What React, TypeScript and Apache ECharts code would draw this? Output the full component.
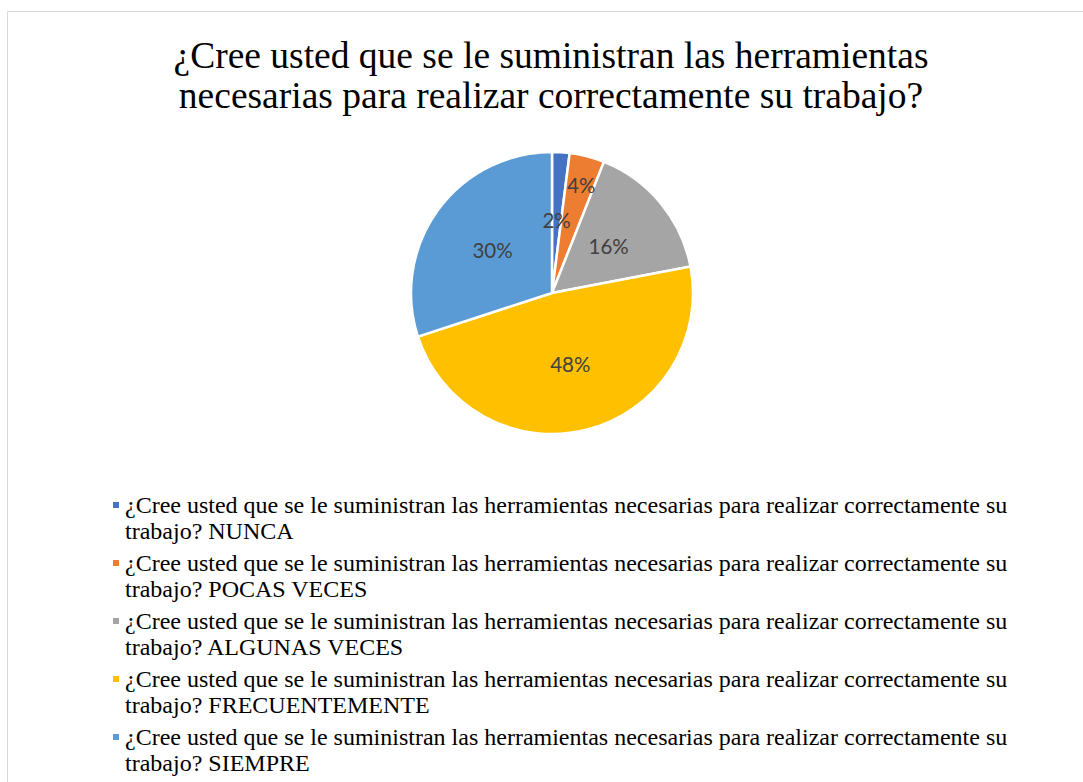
import React, { useEffect, useRef } from "react";
import * as echarts from "echarts";

const TITLE = "¿Cree usted que se le suministran las herramientas\nnecesarias para realizar correctamente su trabajo?";
const QUESTION = "¿Cree usted que se le suministran las herramientas necesarias para realizar correctamente su trabajo?";
const CATEGORIES = ["NUNCA", "POCAS VECES", "ALGUNAS VECES", "FRECUENTEMENTE", "SIEMPRE"];
const VALUES = [2, 4, 16, 48, 30];
const COLORS = ["#4472C4", "#ED7D31", "#A5A5A5", "#FFC000", "#5B9BD5"];

export default function App() {
  const ref = useRef<HTMLDivElement>(null);
  useEffect(() => {
    if (!ref.current) return;
    const chart = echarts.init(ref.current, undefined, { renderer: "svg" });
    const data = CATEGORIES.map((c, i) => ({
      name: QUESTION + " " + c,
      value: VALUES[i],
      itemStyle: { color: COLORS[i] },
    }));
    chart.setOption({
      animation: false,
      backgroundColor: "#ffffff",
      title: {
        text: TITLE,
        left: 551,
        top: 35,
        textAlign: "center",
        padding: 0,
        textStyle: {
          fontFamily: "'Liberation Serif', 'Times New Roman', serif",
          fontSize: 37.5,
          fontWeight: "normal",
          color: "#000000",
          lineHeight: 40,
        },
      },
      graphic: [
        {
          type: "rect",
          shape: { x: 7.5, y: 11.5, width: 1200, height: 900 },
          style: { fill: "none", stroke: "#d9d9d9", lineWidth: 1 },
          silent: true,
        },
      ],
      legend: {
        orient: "vertical",
        left: 111,
        top: 466,
        padding: 0,
        itemGap: -20,
        itemWidth: 8,
        itemHeight: 8,
        icon: "rect",
        selectedMode: false,
        formatter: (name: string) => "\n" + name.replace(" trabajo?", "\ntrabajo?"),
        textStyle: {
          fontFamily: "'Liberation Serif', 'Times New Roman', serif",
          fontSize: 24,
          color: "#000000",
          lineHeight: 26,
        },
      },
      series: [
        {
          type: "pie",
          center: [552, 293],
          radius: 141,
          startAngle: 90,
          clockwise: true,
          data,
          itemStyle: { borderColor: "#ffffff", borderWidth: 2.5 },
          label: {
            show: true,
            position: "inside",
            formatter: "{d}%",
            fontFamily: "Lato, 'Open Sans', sans-serif",
            fontSize: 20.5,
            color: "#404040",
          },
          labelLine: { show: false },
          labelLayout: (p: any) => (p.dataIndex === 1 ? { dx: 11, dy: -37 } : {}),
          emphasis: { disabled: true },
        },
      ],
    });
    return () => chart.dispose();
  }, []);
  return (
    <div
      ref={ref}
      style={{ position: "fixed", left: 0, top: 0, width: 1083, height: 782 }}
    />
  );
}
